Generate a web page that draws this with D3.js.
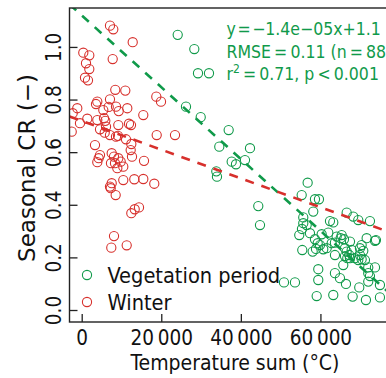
<!DOCTYPE html>
<html>
<head>
<meta charset="utf-8">
<script src="https://cdn.jsdelivr.net/npm/d3@7"></script>
<style>
  body { margin: 0; background: #fff; }
  svg text { font-family: "DejaVu Sans Condensed", "DejaVu Sans", sans-serif; font-stretch: condensed; }
</style>
</head>
<body>
<div id="chart"></div>
<script>
// winter points (temperature sum, seasonal CR)
const winterX = [7110, 7940, 12820, 400, 1910, 7790, 1080, 1910, 830, 1580, 8440, 10960, 18750, 19930, 7110, 3920, 3590, -1110, -2260, 5430, 8620, 11460, 5600, 5930, 1410, -430, 15480, 9200, 11890, -2510, 4600, 6110, 7110, 8620, 11130, 12470, 18850, 23450, 3340, 12310, 12640, 4600, 4270, 3920, 7540, 8120, 9200, 8370, 9800, 7360, 10450, 8950, 15660, 10450, 13220, 15480, 18240, 7540, 7110, 7290, 8540, 12470, 13320, 14400, 8120, 7440, 11310, 9300, 6790, 3920, 12390, 5780, 9120];
const winterY = [1.081, 1.067, 1.018, 0.978, 0.968, 0.954, 0.938, 0.916, 0.883, 0.873, 0.837, 0.834, 0.811, 0.792, 0.801, 0.792, 0.783, 0.767, 0.748, 0.760, 0.773, 0.767, 0.729, 0.719, 0.727, 0.710, 0.741, 0.703, 0.708, 0.678, 0.687, 0.697, 0.665, 0.659, 0.649, 0.631, 0.665, 0.665, 0.627, 0.608, 0.583, 0.589, 0.577, 0.562, 0.596, 0.583, 0.577, 0.558, 0.564, 0.558, 0.545, 0.539, 0.567, 0.494, 0.497, 0.498, 0.480, 0.482, 0.469, 0.463, 0.437, 0.368, 0.383, 0.390, 0.281, 0.237, 0.246, 0.756, 0.772, 0.722, 0.703, 0.674, 0.662];

// vegetation period points
const vegX = [24130, 28300, 29230, 31990, 26210, 29910, 36940, 34580, 42300, 37700, 38780, 41040, 33830, 34000, 56790, 44380, 44810, 50840, 53600, 55290, 58630, 59630, 58200, 55690, 55690, 56540, 55360, 62400, 63230, 66600, 68250, 69510, 72450, 57370, 54680, 60310, 61970, 58630, 59310, 59890, 64080, 65090, 65920, 65340, 67430, 71620, 73710, 70360, 62830, 63650, 61570, 55440, 58050, 58880, 63650, 66170, 66600, 67250, 66750, 66170, 67850, 67430, 69940, 70770, 69940, 68680, 69510, 65740, 71190, 70360, 72020, 73710, 59460, 59460, 63650, 64910, 66420, 72020, 72450, 72020, 74960, 69760, 59060, 63230, 68100, 71440, 74960, 73960, 60710];
const vegY = [1.046, 0.992, 0.900, 0.900, 0.773, 0.733, 0.684, 0.621, 0.615, 0.564, 0.554, 0.570, 0.527, 0.507, 0.484, 0.395, 0.323, 0.105, 0.105, 0.437, 0.421, 0.421, 0.374, 0.352, 0.330, 0.323, 0.308, 0.338, 0.333, 0.370, 0.355, 0.342, 0.338, 0.292, 0.285, 0.288, 0.294, 0.269, 0.254, 0.247, 0.279, 0.273, 0.269, 0.285, 0.260, 0.273, 0.263, 0.247, 0.254, 0.256, 0.235, 0.228, 0.222, 0.232, 0.209, 0.235, 0.222, 0.209, 0.197, 0.205, 0.228, 0.197, 0.235, 0.225, 0.209, 0.197, 0.190, 0.171, 0.190, 0.193, 0.162, 0.162, 0.155, 0.114, 0.140, 0.121, 0.099, 0.140, 0.129, 0.108, 0.095, 0.086, 0.053, 0.057, 0.051, 0.038, 0.048, 0.266, 0.231];

// fitted lines: [intercept, slope]
const vegFit = [1.12, -1.365e-5];
const winterFit = [0.719, -5.47e-6];

const xTicks = [0, 20000, 40000, 60000];
const yTicks = [0, 0.2, 0.4, 0.6, 0.8, 1.0];
const seriesNames = ["Vegetation period", "Winter"];
const statLines = ["y\u200a=\u200a\u22121.4e\u221205x+1.1", "RMSE\u2009=\u20090.11 (n\u2009=\u200988)"];

const green = "#109a4a", red = "#d7302c";
const width = 386, height = 378;
const mLeft = 69.5, mRight = 400, mTop = 8, mBottom = 322;

const x = d3.scaleLinear().domain([-3066, 80000]).range([mLeft, mRight]);
const y = d3.scaleLinear().domain([-0.0456, 1.148]).range([mBottom, mTop]);

const svg = d3.select("#chart").append("svg")
  .attr("width", width).attr("height", height);

svg.append("clipPath").attr("id", "plotclip")
  .append("rect").attr("x", mLeft).attr("y", mTop)
  .attr("width", mRight - mLeft).attr("height", mBottom - mTop);

const plot = svg.append("g").attr("clip-path", "url(#plotclip)");

function drawPoints(xs, ys, color) {
  plot.append("g").selectAll("circle")
    .data(xs.map((d, i) => [d, ys[i]]))
    .enter().append("circle")
    .attr("cx", d => x(d[0]))
    .attr("cy", d => y(d[1]))
    .attr("r", 4.6)
    .attr("fill", "none")
    .attr("stroke", color)
    .attr("stroke-width", 1.1);
}
drawPoints(vegX, vegY, green);
drawPoints(winterX, winterY, red);

function drawFit(fit, color) {
  const dom = x.domain();
  plot.append("path")
    .datum(dom.map(v => [v, fit[0] + fit[1] * v]))
    .attr("d", d3.line().x(d => x(d[0])).y(d => y(d[1])))
    .attr("fill", "none")
    .attr("stroke", color)
    .attr("stroke-width", 2.6)
    .attr("stroke-dasharray", "9,8");
}
drawFit(vegFit, green);
drawFit(winterFit, red);

// frame
svg.append("rect")
  .attr("x", mLeft).attr("y", mTop)
  .attr("width", mRight - mLeft).attr("height", mBottom - mTop)
  .attr("fill", "none").attr("stroke", "#222").attr("stroke-width", 1.4);

// axes, ticks pointing inward
const xAxis = svg.append("g").attr("transform", `translate(0,${mBottom})`)
  .call(d3.axisBottom(x).tickValues(xTicks).tickSizeInner(-8).tickSizeOuter(0)
    .tickFormat(d => d3.format(",")(d).replace(/,/g, "\u2009")));
xAxis.select(".domain").remove();
xAxis.selectAll("line").attr("stroke", "#222").attr("stroke-width", 1.3);
xAxis.selectAll("text").attr("y", 23).attr("dy", 0)
  .attr("font-size", 20.5).attr("fill", "#111");

const yAxis = svg.append("g").attr("transform", `translate(${mLeft},0)`)
  .call(d3.axisLeft(y).tickValues(yTicks).tickSizeInner(-8).tickSizeOuter(0)
    .tickFormat(d3.format(".1f")));
yAxis.select(".domain").remove();
yAxis.selectAll("line").attr("stroke", "#222").attr("stroke-width", 1.3);
yAxis.selectAll("text")
  .attr("transform", "rotate(-90)")
  .attr("x", 0).attr("y", -9).attr("dy", 0)
  .attr("text-anchor", "middle")
  .attr("font-size", 20.5).attr("fill", "#111");

// axis titles
svg.append("text")
  .attr("x", 235).attr("y", 370)
  .attr("text-anchor", "middle")
  .attr("font-size", 21).attr("fill", "#111")
  .text("Temperature sum (°C)");

svg.append("text")
  .attr("transform", "translate(35,168) rotate(-90)")
  .attr("text-anchor", "middle")
  .style("font-family", "'DejaVu Sans', sans-serif").style("font-stretch", "normal")
  .attr("font-size", 23).attr("fill", "#111")
  .text("Seasonal CR (\u2212)");

// legend
const legend = svg.append("g");
[green, red].forEach((c, i) => {
  legend.append("circle")
    .attr("cx", 87).attr("cy", 275 + i * 27)
    .attr("r", 4.6).attr("fill", "none")
    .attr("stroke", c).attr("stroke-width", 1.1);
  legend.append("text")
    .attr("x", 107.5).attr("y", 282.5 + i * 27)
    .attr("font-size", 21.6).attr("fill", "#111")
    .text(seriesNames[i]);
});

// fit statistics
const stats = svg.append("g").attr("fill", green).attr("font-size", 17.5);
statLines.forEach((s, i) => {
  stats.append("text").attr("x", 226.5).attr("y", 35 + i * 23).text(s);
});
const r2 = stats.append("text").attr("x", 226.5).attr("y", 80);
r2.append("tspan").text("r");
r2.append("tspan").attr("font-size", 12).attr("dy", -7).text("2");
r2.append("tspan").attr("dy", 7).text("\u2009=\u20090.71, p\u2009<\u20090.001");
</script>
</body>
</html>
